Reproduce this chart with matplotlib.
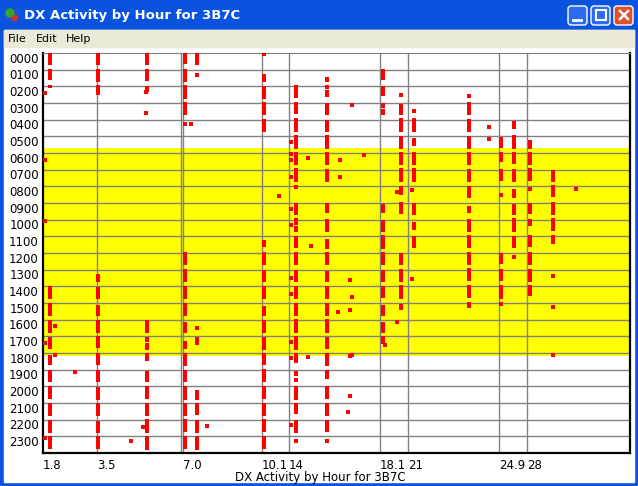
import matplotlib
matplotlib.use("Agg")
import matplotlib.pyplot as plt
from matplotlib.patches import Rectangle, FancyBboxPatch, Circle
import numpy as np

# ---------------- data ----------------
hour_labels = ["%02d00" % h for h in range(24)]
band_labels = ["1.8", "3.5", "7.0", "10.1", "14", "18.1", "21", "24.9", "28"]
band_pos = [0, 54, 140, 219, 246, 337, 365, 456, 484]   # chart x units
extra_band_lines = [138]
active_hours = (5.69, 18.18)

# column positions (chart x units)
cols = {
    "c1": 7, "c2": 55, "c3": 104, "c4": 142, "c5": 154, "c6": 221, "c7": 253,
    "c8": 284, "c9": 340, "c10": 358, "c11": 371, "c12": 426, "c13": 458,
    "c14": 471, "c15": 487, "c16": 510,
}
# continuous runs of spots: (column, start hour, end hour)
runs = {
    "c1": [(0, .7), (.96, 1.6), (1.95, 2.1), (14, 14.74), (14.98, 15.76), (16, 16.8), (17.04, 17.74),
           (18.1, 18.7), (19, 19.76), (19.96, 20.74), (20.98, 21.76), (22, 22.78), (22.96, 23.74)],
    "c2": [(0, .7), (.96, 1.72), (1.92, 2.5), (13.24, 13.72), (14.06, 14.74), (15.1, 15.76), (16, 16.78),
           (16.96, 17.68), (17.98, 18.7), (19, 19.76), (20.06, 20.8), (20.98, 21.76), (22.06, 22.78), (22.96, 23.74)],
    "c3": [(0, .7), (.96, 1.66), (1.98, 2.32), (16.04, 16.78), (17.04, 17.32), (17.38, 17.8), (17.98, 18.46),
           (19.06, 19.72), (19.96, 20.74), (20.98, 21.76), (21.94, 22.78), (22.96, 23.8)],
    "c4": [(0, .64), (.96, 1.72), (1.92, 2.74), (2.94, 3.72), (11.94, 12.74), (12.94, 13.72), (13.96, 14.74),
           (14.98, 15.76), (16.12, 16.78), (17.26, 17.74), (17.98, 18.76), (19, 19.76), (19.96, 20.8),
           (20.98, 21.76), (21.94, 22.72), (22.96, 23.74)],
    "c5": [(0, .7), (17.02, 17.5), (20.2, 20.8), (20.98, 21.7), (22, 22.78), (22.96, 23.8)],
    "c6": [(1.26, 1.72), (1.98, 2.74), (2.94, 3.72), (3.96, 4.74), (11.22, 11.64), (11.94, 12.74), (13, 13.76),
           (13.96, 14.78), (15.16, 15.76), (16, 16.78), (17.02, 17.8), (17.98, 18.7), (18.94, 19.72),
           (19.96, 20.74), (20.98, 21.76), (21.94, 22.72), (22.96, 23.74)],
    "c7": [(1.92, 2.68), (2.94, 3.66), (3.9, 4.74), (4.92, 5.76), (5.94, 6.72), (6.96, 7.74), (9, 9.72),
           (9.9, 10.32), (10.38, 10.74), (10.98, 11.7), (11.94, 12.74), (13, 13.72), (13.96, 14.78),
           (14.98, 15.76), (15.94, 16.78), (16.96, 17.8), (17.98, 18.58), (19.06, 19.36), (19.96, 20.8),
           (20.98, 21.64), (22, 22.78)],
    "c8": [(1.44, 1.74), (1.92, 2.16), (2.22, 2.64), (3, 3.72), (4.02, 4.74), (4.92, 5.76), (5.94, 6.72),
           (6.96, 7.74), (9, 9.6), (9.96, 10.74), (11.16, 11.76), (11.94, 12.74), (13.06, 13.76),
           (13.96, 14.74), (14.98, 15.76), (15.94, 16.78), (17.02, 17.74), (17.98, 18.76), (19, 19.54),
           (19.96, 20.74), (20.98, 21.76), (22, 22.72)],
    "c9": [(.96, 1.62), (1.98, 2.58), (3, 3.3), (3.36, 3.72), (9.06, 9.6), (10.02, 10.74), (10.92, 11.76),
           (11.94, 12.74), (13, 13.76), (13.96, 14.68), (15.1, 15.76), (16.12, 16.78), (16.96, 17.44)],
    "c10": [(3.06, 3.72), (3.9, 4.74), (4.98, 5.76), (5.94, 6.72), (6.9, 7.74), (7.98, 8.52), (8.94, 9.66),
            (12, 12.72), (12.96, 13.74), (13.92, 14.76), (15.06, 15.42)],
    "c11": [(3.9, 4.74), (5.1, 5.58), (5.94, 6.72), (6.9, 7.74), (9, 9.72), (10.14, 10.62), (10.98, 11.7)],
    "c12": [(2.94, 3.72), (3.96, 4.74), (4.98, 5.76), (5.94, 6.72), (6.96, 7.74), (7.98, 8.7), (9.18, 9.6),
            (9.96, 10.74), (10.92, 11.7), (11.94, 12.72), (12.9, 13.68), (13.92, 14.7), (14.94, 15.3)],
    "c13": [(5.04, 5.7), (5.94, 6.54), (6.96, 7.68), (12, 12.66), (12.96, 13.68), (13.92, 14.76)],
    "c14": [(4.08, 4.56), (4.92, 5.76), (5.94, 6.66), (6.96, 7.74), (8.16, 8.7), (9.06, 9.72), (9.9, 10.74),
            (10.98, 11.7)],
    "c15": [(5.22, 5.76), (5.94, 6.72), (6.9, 7.68), (9, 9.66), (9.96, 10.38), (10.92, 11.64), (11.94, 12.72),
            (12.96, 13.74), (13.92, 14.58)],
    "c16": [(7.02, 7.74), (7.92, 8.64), (8.94, 9.72), (9.9, 10.68), (10.92, 11.46)],
}
# isolated spots: (chart x, hour)
spot_x = [2, 2, 2, 12, 2, 12, 32, 2, 103, 103, 100, 88, 142, 148, 154, 154, 164,
          221, 253, 253, 253, 253, 253, 248, 248, 248, 248, 248, 248, 248, 248, 248, 248, 248,
          265, 236, 268, 265, 284, 309, 297, 297, 321, 307, 309, 295, 307, 307, 307, 305,
          342, 358, 354, 354, 371, 369, 369, 426, 446, 446, 458, 458, 471, 487, 510, 510, 533, 510, 309]
spot_h = [2.4, 6.4, 10.08, 16.4, 17.38, 18.1, 19.12, 23.08, 3.6, 2.36, 22.42, 23.26, 4.26, 4.26, 1.32, 16.51, 22.36,
          0.09, 5.1, 7.04, 19.6, 23.29, 8.04, 5.37, 6.06, 6.45, 7.47, 9.36, 10.32, 13.51, 14.47, 17.35, 18.31, 22.3,
          6.3, 8.58, 11.58, 18.22, 23.26, 3.12, 6.42, 7.44, 6.12, 13.6, 14.62, 15.52, 15.4, 18.16, 20.56, 21.52,
          17.5, 2.55, 8.34, 16.14, 3.51, 8.22, 13.56, 2.58, 4.44, 5.16, 8.49, 15.06, 12.24, 8.16, 13.38, 15.24, 8.16,
          18.1, 18.1]

# ---------------- figure ----------------
W, H = 638, 486
fig = plt.figure(figsize=(W / 100, H / 100), dpi=100)
bg = fig.add_axes([0, 0, 1, 1])
bg.set_xlim(0, W); bg.set_ylim(H, 0); bg.axis("off")
bg.add_patch(Rectangle((0, 0), W, H, color="#0A53DE"))
# title bar gradient
grad = np.linspace(0, 1, 30).reshape(-1, 1)
bg.imshow(np.dstack([0.05 + 0.2 * (1 - grad) * 0, 0.33 + 0.2 * np.abs(grad - 0.3), 0.9 + 0.08 * (1 - grad)]),
          extent=(0, W, 30, 0), aspect="auto")
bg.add_patch(Rectangle((4, 30), W - 8, H - 34, color="white"))
bg.add_patch(Rectangle((4, 30), W - 8, 17, color="#ECE9D8"))
bg.add_patch(Circle((12, 15), 7, color="#1F4FCF"))
bg.add_patch(Circle((10, 13), 4, color="#2FA82F"))
bg.add_patch(Circle((15, 18), 2.5, color="#D83020"))
bg.text(24, 15, "DX Activity by Hour for 3B7C", color="white", fontsize=9.5, fontweight="bold",
        va="center", ha="left")
for x0, col in [(567, "#2C6BF0"), (590, "#2C6BF0"), (613, "#E0502C")]:
    bg.add_patch(FancyBboxPatch((x0 + 1, 6), 19, 19, boxstyle="round,pad=0,rounding_size=3",
                                fc=col, ec="white", lw=1))
bg.plot([573, 581], [20, 20], color="white", lw=2)
bg.add_patch(Rectangle((596, 10), 10, 10, fill=False, ec="white", lw=1.5))
bg.plot([620, 628], [11, 19], color="white", lw=1.8)
bg.plot([620, 628], [19, 11], color="white", lw=1.8)
for name, x in [("File", 8), ("Edit", 36), ("Help", 66)]:
    bg.text(x, 38.5, name, fontsize=8, va="center", ha="left", color="black")

L, T, R, B = 43, 53, 630, 453
ax = fig.add_axes([L / W, (H - B) / H, (R - L) / W, (B - T) / H])
ax.set_xlim(0, R - L)
ax.set_ylim(24, 0)
ax.axhspan(active_hours[0], active_hours[1], color="#FFFF00", zorder=0, lw=0)
for h in range(1, 24):
    ax.axhline(h, color="#808080", lw=1, zorder=1)
for x in band_pos[1:] + extra_band_lines:
    ax.axvline(x, color="#808080", lw=1, zorder=1)

for name, segs in runs.items():
    x = cols[name]
    starts = [s for s, e in segs]
    heights = [e - s for s, e in segs]
    ax.bar([x] * len(segs), heights, bottom=starts, width=4, color="#FF0000", lw=0, zorder=3)
ax.bar(spot_x, [0.24] * len(spot_x), bottom=[h - 0.12 for h in spot_h], width=4.5,
       color="#FF0000", lw=0, zorder=3)

ax.set_yticks([h + 0.28 for h in range(24)])
ax.set_yticklabels(hour_labels, fontsize=8.5)
ax.set_xticks(band_pos)
ax.set_xticklabels(band_labels, fontsize=8.5, ha="left")
ax.tick_params(length=0, pad=3)
ax.tick_params(axis="x", pad=4)
for s in ["left", "bottom", "right"]:
    ax.spines[s].set_color("black"); ax.spines[s].set_linewidth(1.6)
ax.spines["top"].set_color("#808080")
fig.text(320 / W, 1 - 477 / H, "DX Activity by Hour for 3B7C", fontsize=8.5, ha="center", va="center")
fig.savefig("out.png", dpi=100)
